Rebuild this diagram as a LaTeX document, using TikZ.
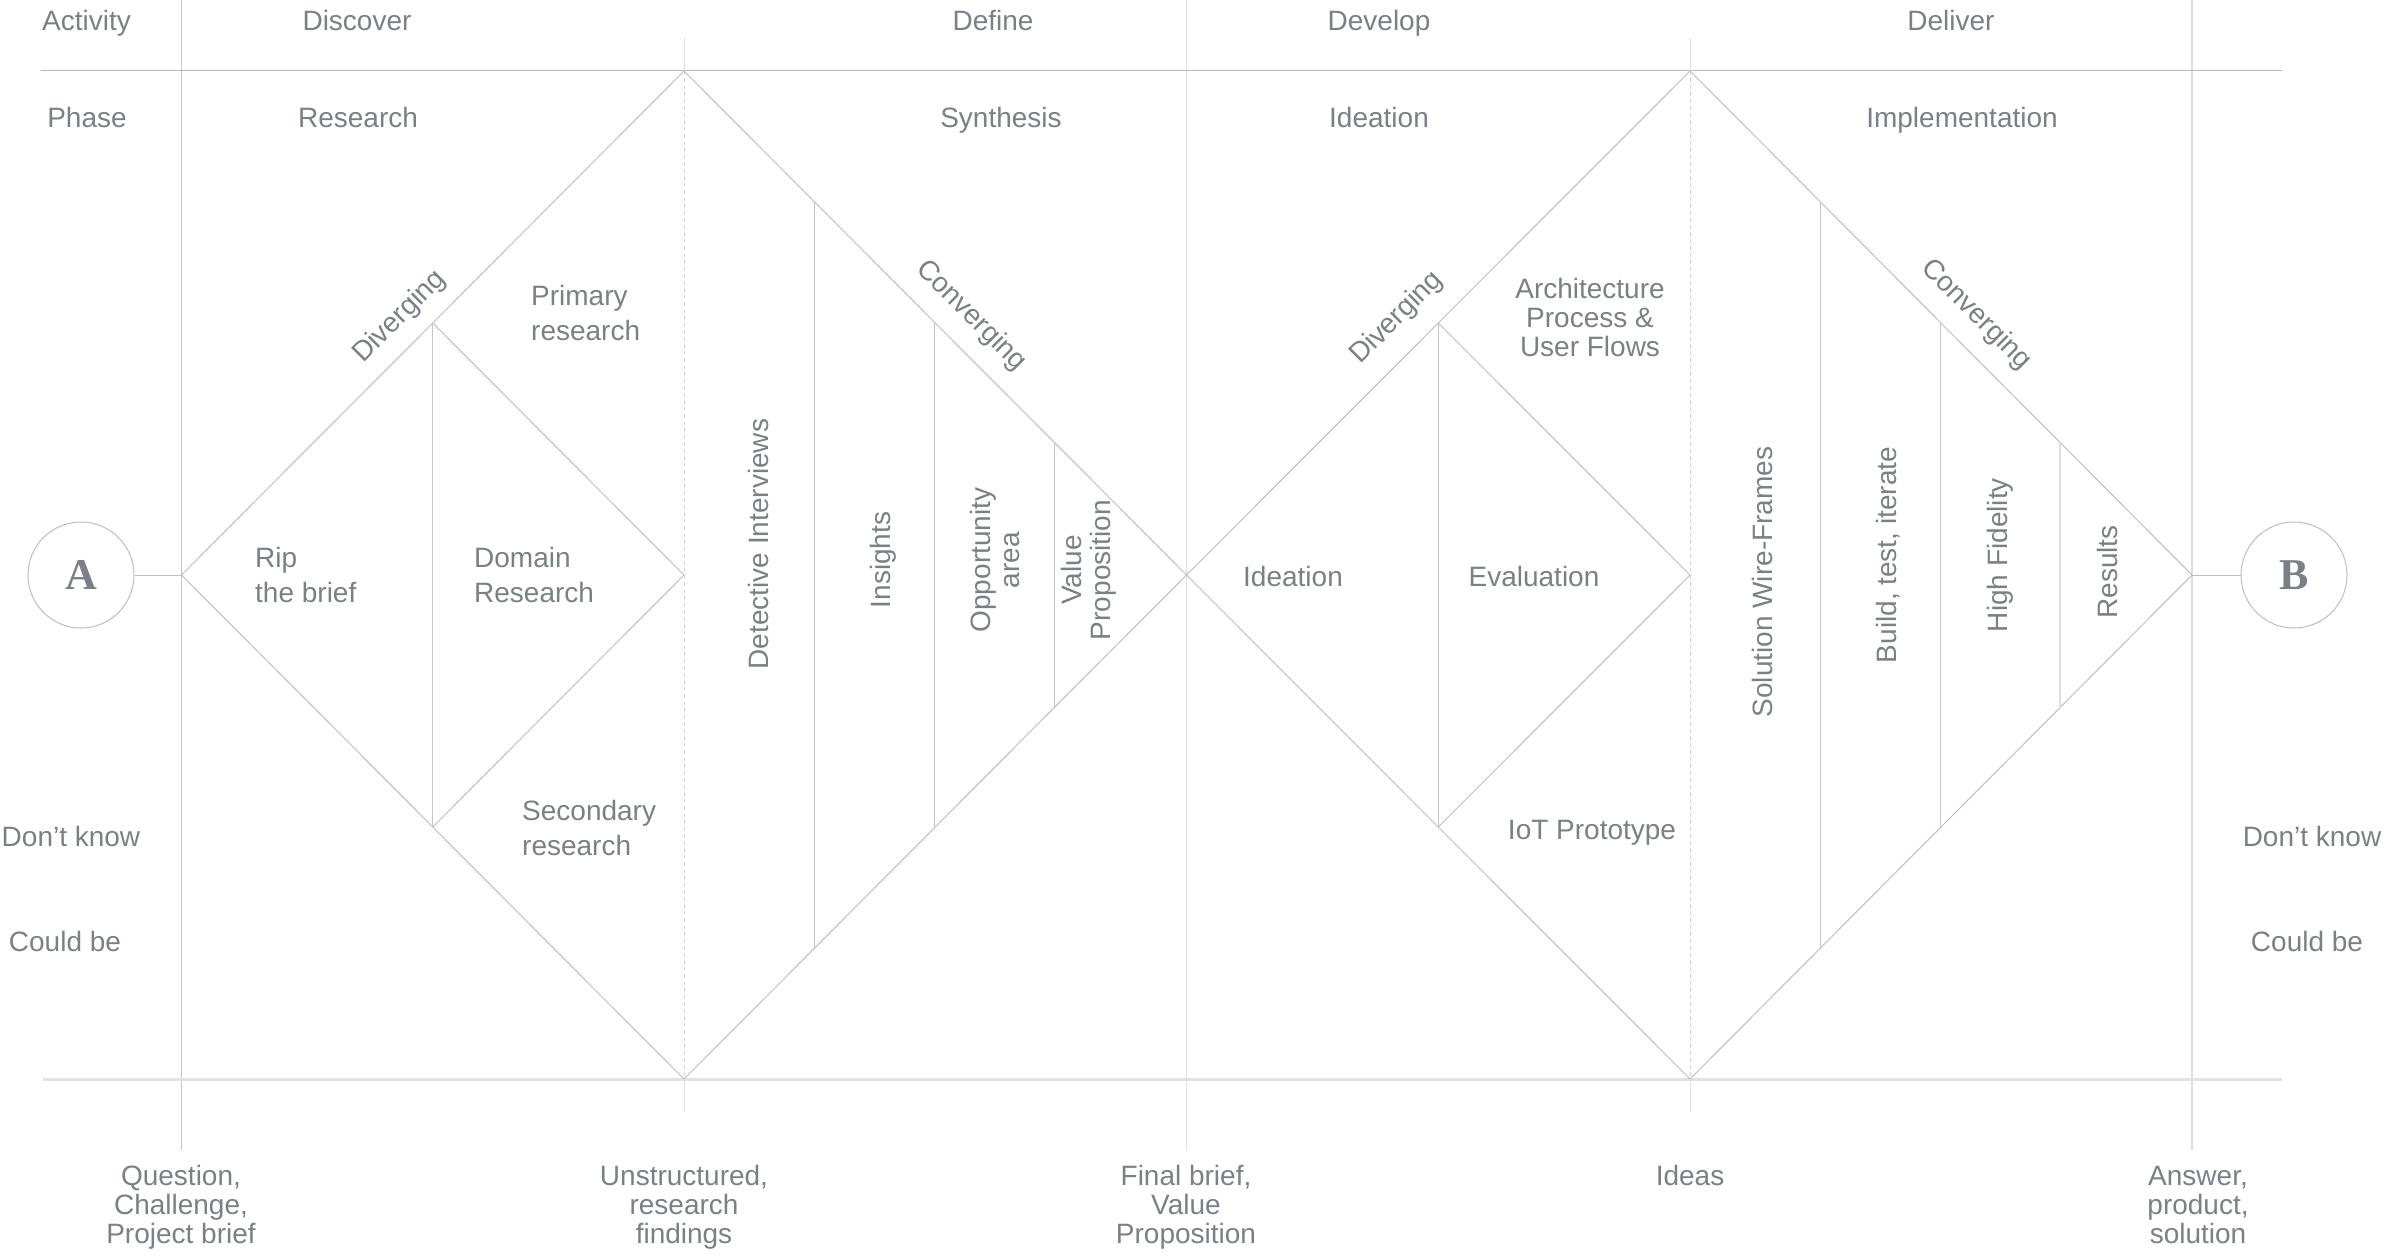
\documentclass[tikz,border=0pt]{standalone}
\usepackage{fontspec}
\setmainfont{Liberation Sans}
\newfontfamily\abfont{Liberation Serif}
\usetikzlibrary{calc}
\definecolor{txt}{HTML}{7B8088}
\definecolor{dia}{HTML}{BEBEBE}
\definecolor{topln}{HTML}{B8B8B8}
\definecolor{botln}{HTML}{E2E2E2}
\definecolor{vln}{HTML}{C6C6C6}
\definecolor{vlnlight}{HTML}{DEDEDE}
\definecolor{dashcol}{HTML}{D2D2D2}
\newcommand\ml[2]{\begin{tabular}[t]{@{}#1@{}}#2\end{tabular}}
\begin{document}
\begin{tikzpicture}[x=1pt,y=-1pt,
  lbl/.style={text=txt, inner sep=0pt, font=\fontsize{28}{35}\selectfont},
  tight/.style={lbl, font=\fontsize{28}{29}\selectfont},
  rot/.style={lbl, rotate=90, font=\fontsize{28}{29}\selectfont},
  dialine/.style={draw=dia, line width=1pt},
  gridline/.style={draw=vln, line width=1pt},
  lightline/.style={draw=vlnlight, line width=2pt},
  dashline/.style={draw=dashcol, line width=1pt, dash pattern=on 4pt off 3pt},
  endpoint/.style={circle, draw=dia, line width=1pt, minimum size=106pt, inner sep=0pt,
                   text=txt, font=\abfont\bfseries\fontsize{44}{44}\selectfont}]
\useasboundingbox[fill=white] (0,0) rectangle (2400,1258);

% key points
\coordinate (L1) at (181.5,575);
\coordinate (T1) at (684,71);
\coordinate (R1) at (1186.5,575);
\coordinate (B1) at (684,1079);
\coordinate (T2) at (1690,71);
\coordinate (R2) at (2192,575);
\coordinate (B2) at (1690,1079);

% grid
\draw[gridline] (181,0) -- (181,1150);
\draw[gridline, draw=vlnlight] (1186.5,0) -- (1186.5,1150);
\draw[lightline] (2192,0) -- (2192,1150);
\draw[draw=topln, line width=1.5pt] (41,70.5) -- (2282,70.5);
\draw[draw=botln, line width=3pt] (43,1079) -- (2282,1079);
\foreach \cx in {684,1690}{
  \draw[gridline, draw=vlnlight] (\cx,38) -- (\cx,71);
  \draw[dashline] (\cx,71) -- (\cx,1079);
  \draw[gridline, draw=vlnlight] (\cx,1079) -- (\cx,1112);
}

% diamond 1
\draw[dialine] (L1) -- (T1) -- (R1) -- (B1) -- cycle;
\coordinate (IT1) at ($(L1)!0.5!(T1)$);
\coordinate (IB1) at ($(L1)!0.5!(B1)$);
\draw[dialine] (IT1) -- (684,575) -- (IB1);
\draw[gridline] (IT1) -- (IB1);
\foreach \f in {130,250,370}{
  \draw[gridline] ($(T1)!\f/502.5!(R1)$) -- ($(B1)!\f/502.5!(R1)$);
}

% diamond 2
\draw[dialine] (R1) -- (T2) -- (R2) -- (B2) -- cycle;
\coordinate (IT2) at ($(R1)!0.5!(T2)$);
\coordinate (IB2) at ($(R1)!0.5!(B2)$);
\draw[dialine] (IT2) -- (1690,575) -- (IB2);
\draw[gridline] (IT2) -- (IB2);
\foreach \f in {130,250}{
  \draw[gridline] ($(T2)!\f/502!(R2)$) -- ($(B2)!\f/502!(R2)$);
}
\draw[lightline, line width=1.5pt] ($(T2)!370/502!(R2)$) -- ($(B2)!370/502!(R2)$);

% end points
\node[endpoint] (A) at (81,575) {A};
\node[endpoint] (B) at (2294,575) {B};
\draw[dialine] (A.east) -- (L1);
\draw[dialine] (R2) -- (B.west);

% header
\node[lbl, anchor=base west] (activity) at (42,30) {Activity};
\node[lbl, anchor=base] (discover) at (357,30) {Discover};
\node[lbl, anchor=base] (define) at (993,30) {Define};
\node[lbl, anchor=base] (develop) at (1379,30) {Develop};
\node[lbl, anchor=base] (deliver) at (1951,30) {Deliver};
\node[lbl, anchor=base] (phase) at (87,127) {Phase};
\node[lbl, anchor=base] (research) at (358,127) {Research};
\node[lbl, anchor=base] (synthesis) at (1001,127) {Synthesis};
\node[lbl, anchor=base] (ideationtop) at (1379,127) {Ideation};
\node[lbl, anchor=base] (implementation) at (1962,127) {Implementation};

% diamond 1 texts
\node[lbl, anchor=base west] (rip) at (255,567) {\ml{l}{Rip\\the brief}};
\node[lbl, anchor=base west] (domain) at (474,567) {\ml{l}{Domain\\Research}};
\node[lbl, anchor=base west] (primary) at (531,305) {\ml{l}{Primary\\research}};
\node[lbl, anchor=base west] (secondary) at (522,820) {\ml{l}{Secondary\\research}};
\node[lbl, rotate=45] (div1) at (400,317) {Diverging};
\node[lbl, rotate=-45] (conv1) at (971,316) {Converging};
\node[lbl, rotate=90, anchor=base] (detective) at (768,544) {Detective Interviews};
\node[lbl, rotate=90, anchor=base] (insights) at (890,560) {Insights};
\node[rot, anchor=base] (opportunity) at (990,560) {\ml{c}{Opportunity\\area}};
\node[rot, anchor=base] (valueprop) at (1081,570) {\ml{c}{Value\\Proposition}};

% diamond 2 texts
\node[lbl, rotate=45] (div2) at (1397,318) {Diverging};
\node[lbl, rotate=-45] (conv2) at (1976,315) {Converging};
\node[tight, anchor=base] (arch) at (1590,298) {\ml{c}{Architecture\\Process \&\\User Flows}};
\node[lbl, anchor=base] (ideation) at (1293,586) {Ideation};
\node[lbl, anchor=base] (evaluation) at (1534,586) {Evaluation};
\node[lbl, anchor=base] (iot) at (1592,839) {IoT Prototype};
\node[lbl, rotate=90, anchor=base] (solution) at (1772,582) {Solution Wire-Frames};
\node[lbl, rotate=90, anchor=base] (build) at (1896,555) {Build, test, iterate};
\node[lbl, rotate=90, anchor=base] (highfid) at (2007,555) {High Fidelity};
\node[lbl, rotate=90, anchor=base] (results) at (2117,572) {Results};

% side labels
\node[lbl, anchor=base] (dk1) at (71,846) {Don’t know};
\node[lbl, anchor=base] (cb1) at (65,951) {Could be};
\node[lbl, anchor=base] (dk2) at (2312,846) {Don’t know};
\node[lbl, anchor=base] (cb2) at (2307,951) {Could be};

% bottom labels
\node[tight, anchor=base] (question) at (181,1185) {\ml{c}{Question,\\Challenge,\\Project brief}};
\node[tight, anchor=base] (unstructured) at (684,1185) {\ml{c}{Unstructured,\\research\\findings}};
\node[tight, anchor=base] (finalbrief) at (1186,1185) {\ml{c}{Final brief,\\Value\\Proposition}};
\node[tight, anchor=base] (ideas) at (1690,1185) {Ideas};
\node[tight, anchor=base] (answer) at (2198,1185) {\ml{c}{Answer,\\product,\\solution}};
\end{tikzpicture}
\end{document}
